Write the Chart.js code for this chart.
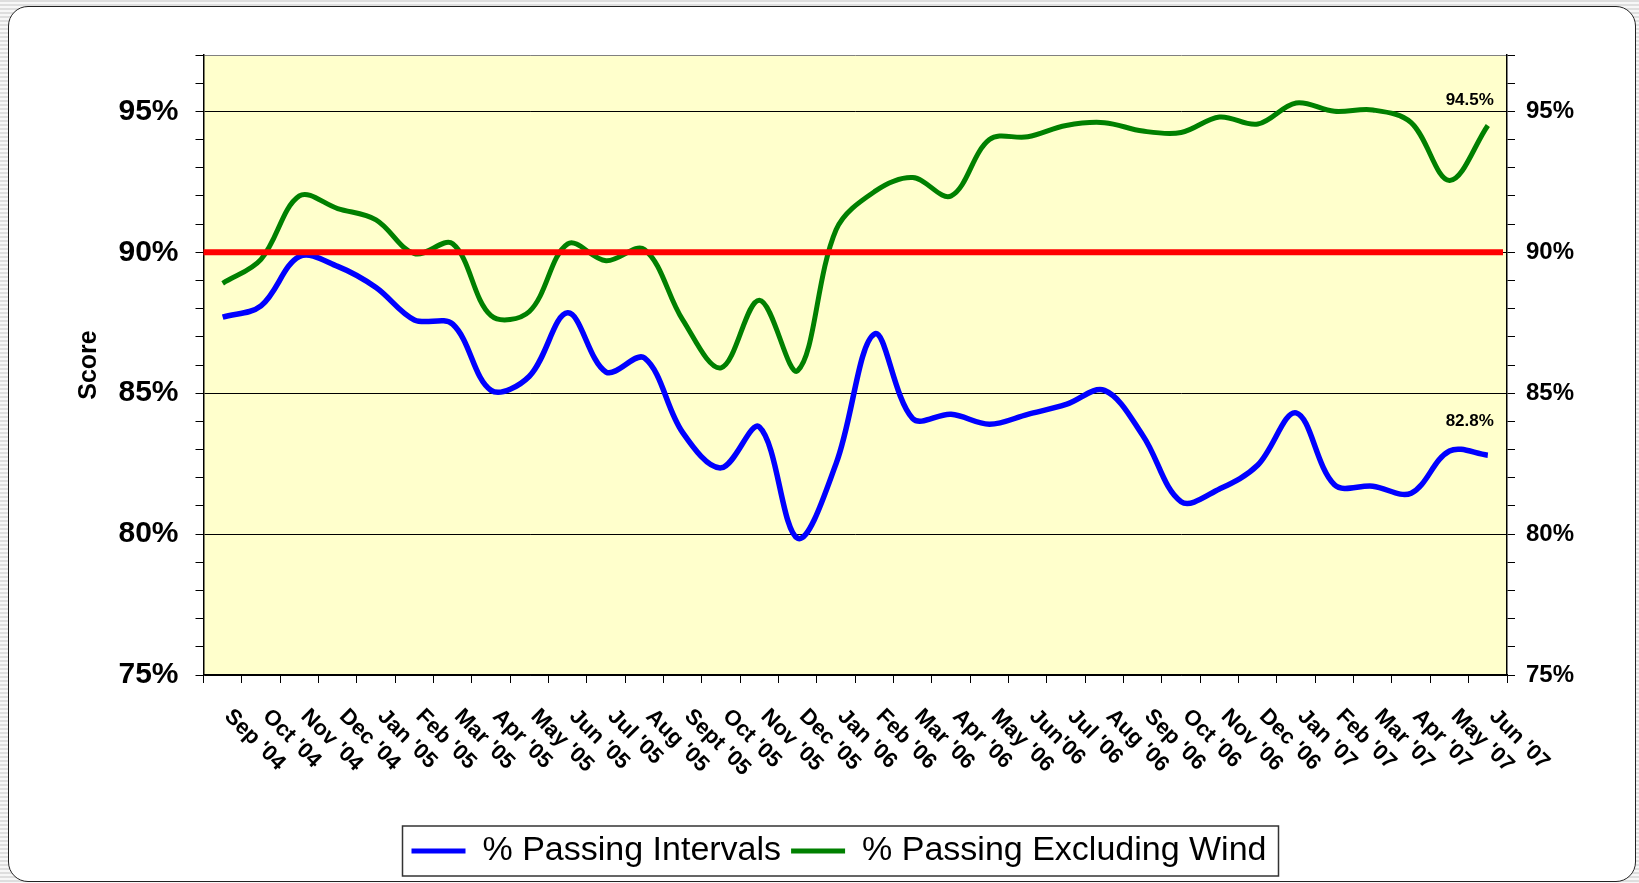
<!DOCTYPE html>
<html>
<head>
<meta charset="utf-8">
<title>Score</title>
<script src="https://cdn.jsdelivr.net/npm/chart.js@4.4.1/dist/chart.umd.min.js"></script>
<style>
  html, body { margin: 0; padding: 0; }
  body {
    width: 1639px; height: 883px; overflow: hidden; position: relative;
    background: repeating-linear-gradient(to bottom, #dedede 0 2px, #f7f7f7 2px 4px);
  }
  .frame {
    position: absolute; left: 8px; top: 6px; width: 1626px; height: 874px;
    background: #fff; border: 1.5px solid #222; border-radius: 20px;
  }
  .chart-box { position: absolute; left: 0; top: 0; width: 1639px; height: 883px; }
</style>
</head>
<body>
<div class="frame"></div>
<div class="chart-box"><canvas id="score-chart"></canvas></div>
<script>
// month categories (x axis)
const months = [
  "Sep '04", "Oct '04", "Nov '04", "Dec '04", "Jan '05", "Feb '05", "Mar '05", "Apr '05",
  "May '05", "Jun '05", "Jul '05", "Aug '05", "Sept '05", "Oct '05", "Nov '05", "Dec '05",
  "Jan '06", "Feb '06", "Mar '06", "Apr '06", "May '06", "Jun'06", "Jul '06", "Aug '06",
  "Sep '06", "Oct '06", "Nov '06", "Dec '06", "Jan '07", "Feb '07", "Mar '07", "Apr '07",
  "May '07", "Jun '07",
];

// % passing intervals (blue)
const passingIntervals = [
  87.7, 88.1, 89.85, 89.5, 88.75, 87.6, 87.45, 85.1, 85.6, 87.85, 85.75, 86.25,
  83.6, 82.35, 83.8, 79.85, 82.5, 87.1, 84.1, 84.25, 83.9, 84.25, 84.6, 85.1,
  83.5, 81.15, 81.6, 82.45, 84.3, 81.75, 81.7, 81.45, 82.95, 82.8,
];

// % passing excluding wind (green)
const passingExclWind = [
  88.9, 89.75, 92.0, 91.55, 91.15, 89.95, 90.3, 87.75, 87.9, 90.3, 89.7, 90.1,
  87.6, 85.9, 88.3, 85.8, 90.8, 92.15, 92.65, 92.0, 94.0, 94.1, 94.5, 94.6,
  94.3, 94.25, 94.8, 94.55, 95.3, 95.0, 95.05, 94.6, 92.55, 94.5,
];

const targetValue = 90;
const yMin = 75;
const yMax = 97;

// how far the last-value label sits above its point, per series
const endLabelLift = [34, 25];

const FONT = 'Arial, "Liberation Sans", Helvetica, sans-serif';
Chart.defaults.font.family = FONT;
Chart.defaults.color = '#000';

// background, red 90% line, end labels, slanted month labels, legend frame
const chartDecor = {
    id: 'chartDecor',
    beforeDraw(chart) {
        const { ctx, chartArea: a } = chart;
        ctx.save();
        ctx.fillStyle = '#ffffcc';
        ctx.fillRect(a.left, a.top, a.right - a.left, a.bottom - a.top);
        ctx.restore();
    },
    afterDatasetsDraw(chart) {
        const { ctx, chartArea: a } = chart;
        const y = chart.scales.y.getPixelForValue(targetValue);
        ctx.save();
        ctx.strokeStyle = '#ff0000';
        ctx.lineWidth = 6;
        ctx.beginPath();
        ctx.moveTo(a.left, y);
        ctx.lineTo(a.right - 4, y);
        ctx.stroke();

        // last value labels
        ctx.font = 'bold 17px ' + FONT;
        ctx.textAlign = 'right';
        ctx.textBaseline = 'middle';
        ctx.fillStyle = '#000';
        chart.data.datasets.forEach((ds, i) => {
            const meta = chart.getDatasetMeta(i);
            const last = ds.data.length - 1;
            const pt = meta.data[last];
            ctx.fillText(ds.data[last].toFixed(1) + '%', pt.x + 6, pt.y - endLabelLift[i]);
        });
        ctx.restore();
    },
    afterDraw(chart) {
        const { ctx, chartArea: a } = chart;
        const xs = chart.scales.x;
        ctx.save();
        ctx.font = 'bold 22px ' + FONT;
        ctx.textAlign = 'left';
        ctx.textBaseline = 'middle';
        ctx.fillStyle = '#000';
        months.forEach((m, i) => {
            ctx.save();
            ctx.translate(xs.getPixelForValue(i) + 5, a.bottom + 38);
            ctx.rotate(Math.PI / 4);
            ctx.fillText(m, 0, 0);
            ctx.restore();
        });

        // frame around legend
        const hb = chart.legend.legendHitBoxes;
        if (hb && hb.length) {
            const first = hb[0];
            const lastBox = hb[hb.length - 1];
            const x0 = first.left - 9;
            const x1 = lastBox.left + lastBox.width + 12;
            const cy = first.top + first.height / 2;
            ctx.strokeStyle = '#333';
            ctx.lineWidth = 1.5;
            ctx.strokeRect(x0, cy - 25, x1 - x0, 50);
        }
        ctx.restore();
    },
};

const pctTick = v => (v % 5 === 0 ? v + '%' : '');

new Chart(document.getElementById('score-chart'), {
    type: 'line',
    data: {
        labels: months,
        datasets: [
            {
                label: '% Passing Intervals',
                data: passingIntervals,
                borderColor: '#0000ff',
                backgroundColor: '#0000ff',
                borderWidth: 5.5,
                pointRadius: 0,
                tension: 0.35,
            },
            {
                label: '% Passing Excluding Wind',
                data: passingExclWind,
                borderColor: '#008000',
                backgroundColor: '#008000',
                borderWidth: 5,
                pointRadius: 0,
                tension: 0.35,
            },
        ],
    },
    options: {
        responsive: true,
        maintainAspectRatio: false,
        animation: false,
        layout: { padding: { left: 70, right: 31, top: 55, bottom: 5 } },
        plugins: {
            tooltip: { enabled: false },
            legend: {
                position: 'bottom',
                labels: {
                    font: { size: 34 },
                    color: '#000',
                    boxWidth: 54,
                    boxHeight: 5,
                    padding: 10,
                    generateLabels(chart) {
                        return chart.data.datasets.map((ds, i) => ({
                            text: ds.label,
                            fillStyle: ds.borderColor,
                            strokeStyle: ds.borderColor,
                            lineWidth: 0,
                            hidden: false,
                            datasetIndex: i,
                        }));
                    },
                },
            },
        },
        scales: {
            x: {
                type: 'category',
                offset: true,
                grid: { offset: true, drawOnChartArea: false, tickColor: '#000', tickLength: 8 },
                border: { color: '#000', width: 1.5 },
                ticks: { display: false },
                afterFit(scale) { scale.height = 149; },
            },
            y: {
                position: 'left',
                min: yMin,
                max: yMax,
                ticks: {
                    stepSize: 1,
                    autoSkip: false,
                    maxTicksLimit: 40,
                    callback: pctTick,
                    font: { size: 30, weight: 'bold' },
                    color: '#000',
                    padding: 17,
                },
                grid: {
                    color(ctx) {
                        const v = ctx.tick && ctx.tick.value;
                        if (v === yMax) return '#808080';
                        return v % 5 === 0 ? '#000' : 'rgba(0,0,0,0)';
                    },
                    tickColor: '#000',
                    tickLength: 8,
                    lineWidth: 1,
                },
                border: { color: '#000', width: 1.5 },
                title: {
                    display: true,
                    text: 'Score',
                    font: { size: 25, weight: 'bold' },
                    color: '#000',
                    padding: { top: 4, bottom: 0 },
                },
                afterFit(scale) { scale.width = 133.5; },
            },
            y2: {
                position: 'right',
                min: yMin,
                max: yMax,
                ticks: {
                    stepSize: 1,
                    autoSkip: false,
                    maxTicksLimit: 40,
                    callback: pctTick,
                    font: { size: 24, weight: 'bold' },
                    color: '#000',
                    padding: 11,
                },
                grid: { drawOnChartArea: false, tickColor: '#000', tickLength: 8 },
                border: { color: '#000', width: 1.5 },
                afterFit(scale) { scale.width = 101; },
            },
        },
    },
    plugins: [chartDecor],
});
</script>
</body>
</html>
